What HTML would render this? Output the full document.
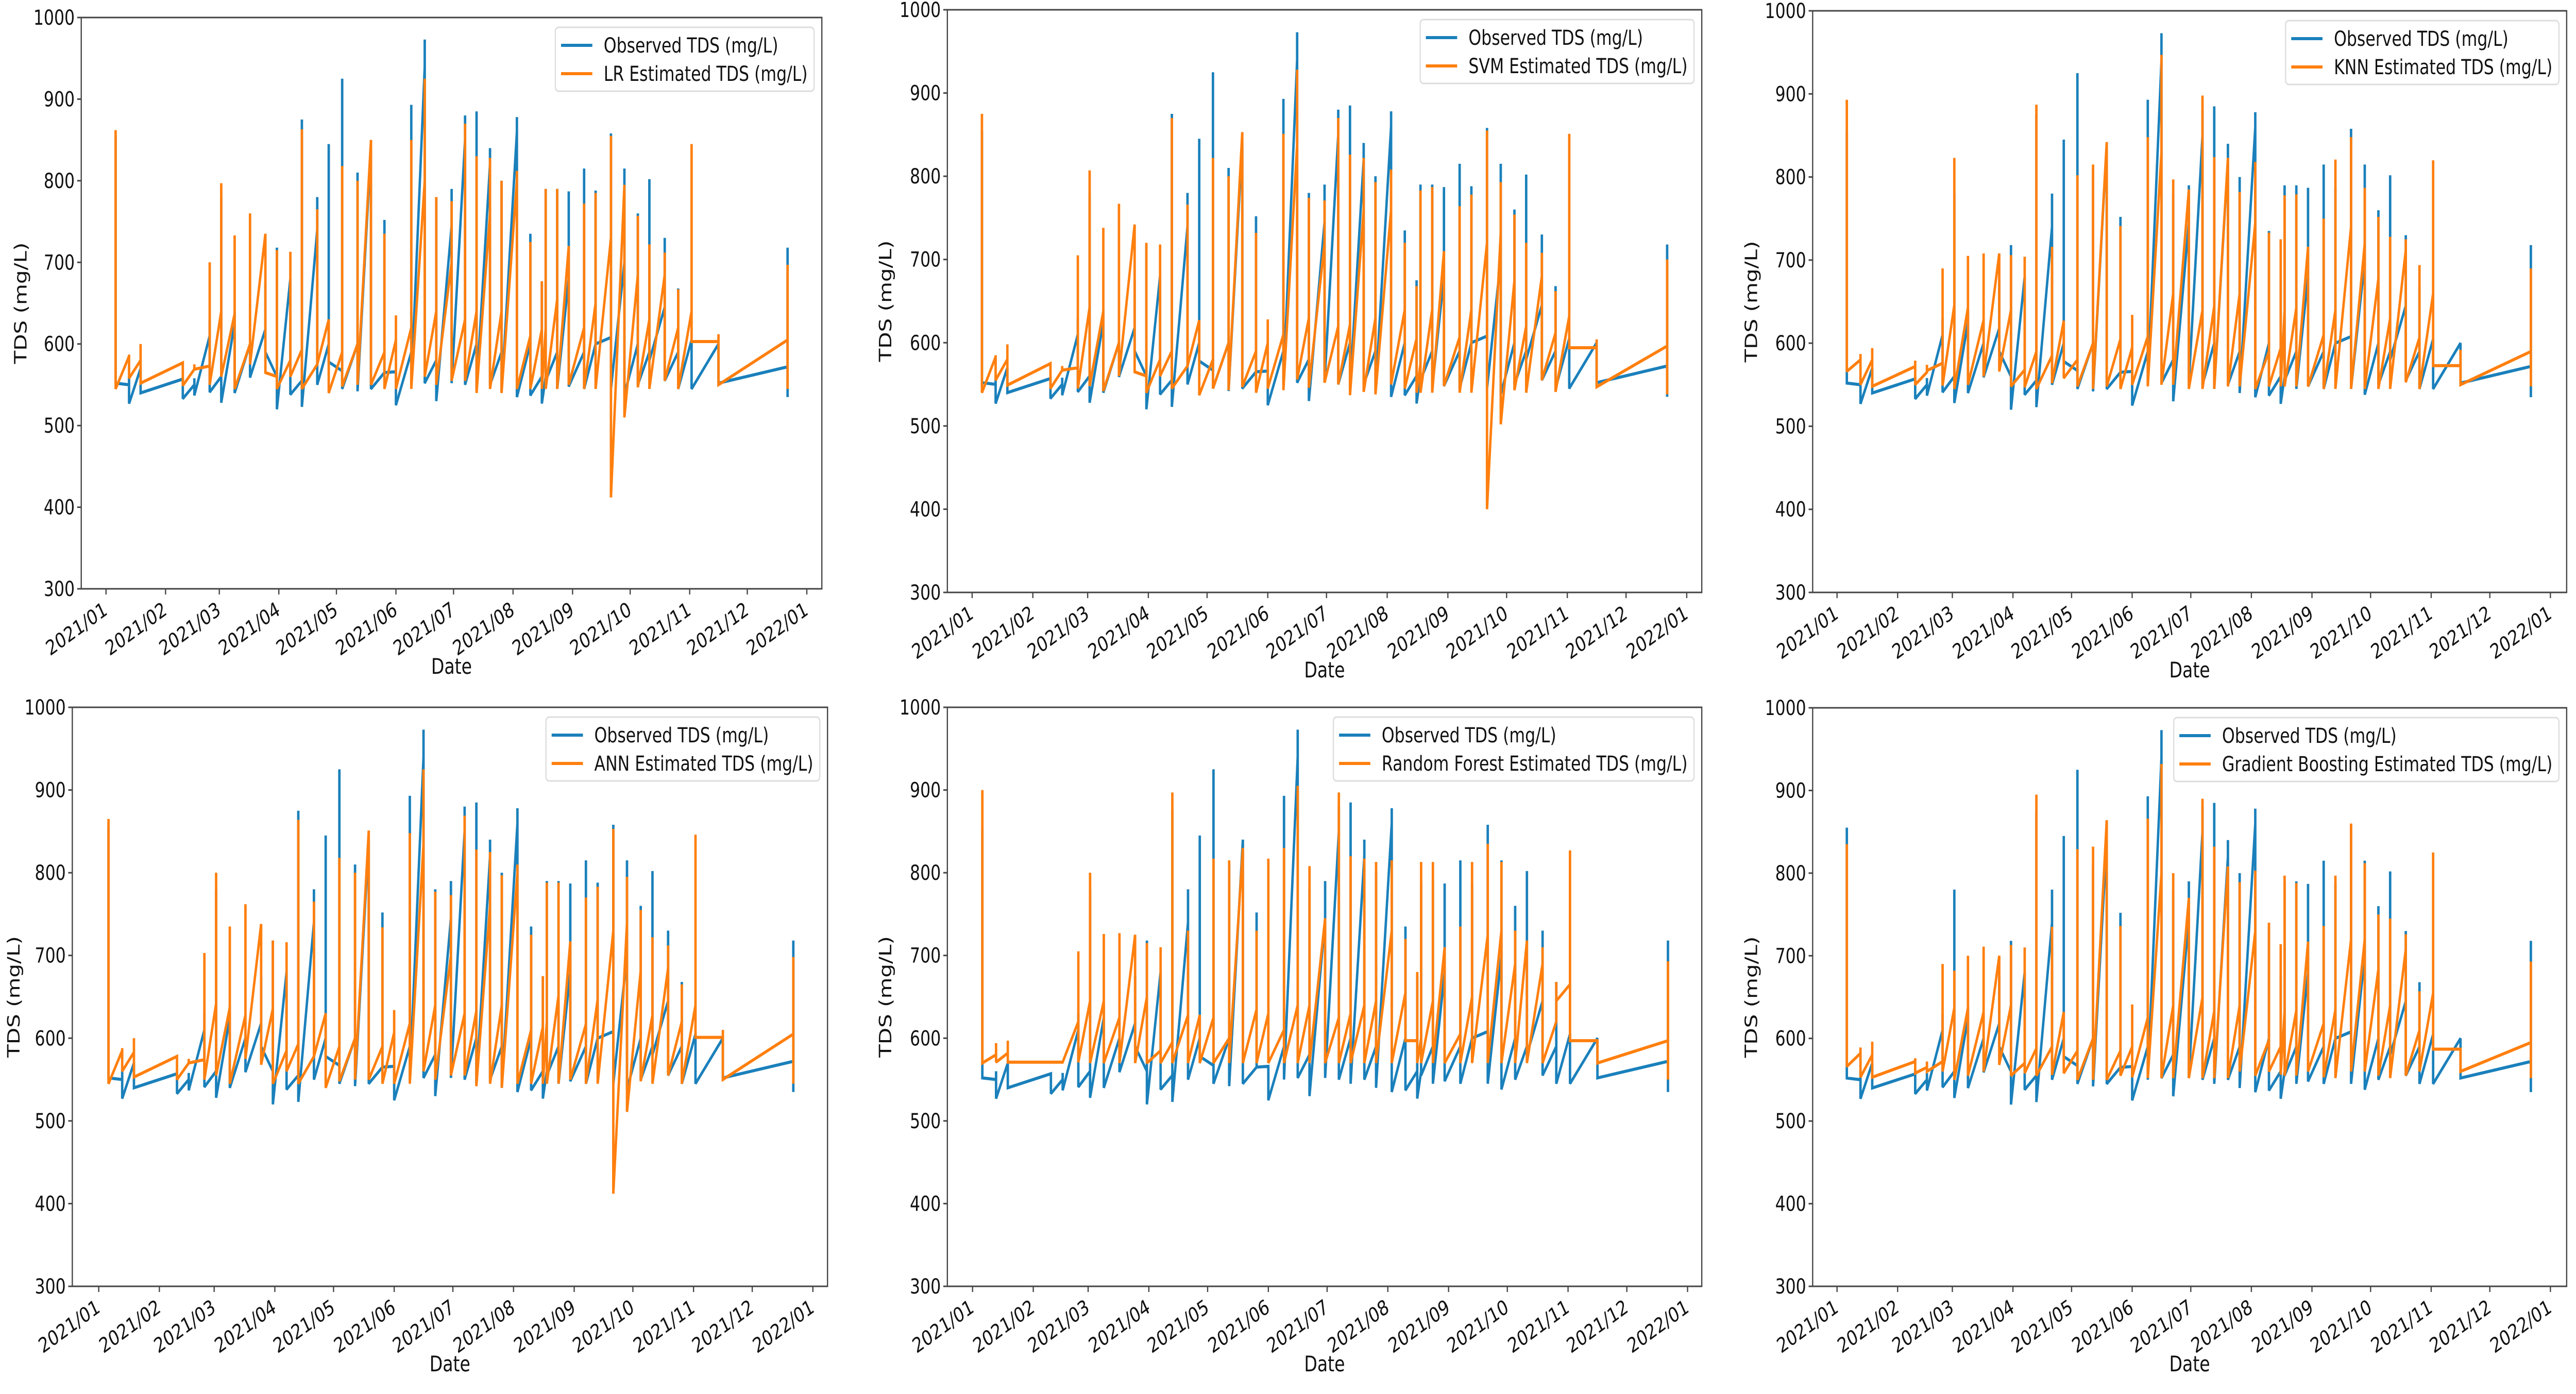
<!DOCTYPE html>
<html><head><meta charset="utf-8">
<style>
html,body{margin:0;padding:0;background:#fff;width:100%;height:100%;overflow:hidden;}
svg{display:block;width:100vw;height:100vh;font-family:"DejaVu Sans","Liberation Sans",sans-serif;}
</style></head>
<body>
<svg id="fig" viewBox="0 0 6341 2706" preserveAspectRatio="none" xmlns="http://www.w3.org/2000/svg"></svg>
<script>
// ---- data ----
const sampleDays = [5,12,18,40,46,54,60,67,75,83,89,96,102,110,116,123,131,138,145,151,159,166,172,180,187,193,200,206,214,221,227,229,235,241,249,255,263,270,277,283,291,298,305,319,355];
const yTicks = [300,400,500,600,700,800,900,1000];
const xTickLabels = ["2021/01","2021/02","2021/03","2021/04","2021/05","2021/06","2021/07","2021/08","2021/09","2021/10","2021/11","2021/12","2022/01"];
const xTickDays = [0,31,59,90,120,151,181,212,243,273,304,334,365];
const obsValues = [560,855,552, 550,560,527, 570,570,540, 557,557,533, 550,558,537, 610,630,541, 560,780,528, 625,640,540, 600,600,559, 618,675,590, 560,718,520, 680,680,538, 555,875,523, 740,780,550, 600,845,578, 567,925,545, 600,810,542, 840,840,545, 565,752,565, 566,566,525, 590,893,550, 940,973,552, 580,780,530, 745,790,552, 850,880,550, 600,885,545, 820,840,550, 590,800,540, 860,878,535, 600,735,537, 560,675,527, 560,790,555, 590,790,545, 680,787,548, 590,815,545, 600,788,600, 608,858,545, 700,815,538, 600,760,550, 590,802,580, 645,730,555, 590,668,545, 605,605,545, 600,600,552, 572,718,535];
const lrValues = [578,862,545, 585,587,558, 580,600,552, 577,577,549, 569,575,569, 573,700,550, 640,797,560, 637,733,545, 600,760,575, 735,735,565, 560,715,545, 580,713,560, 593,863,545, 575,765,575, 630,630,540, 590,818,548, 600,800,550, 850,850,550, 590,735,545, 605,635,545, 620,850,545, 800,925,560, 640,780,550, 700,775,555, 630,870,555, 640,830,540, 760,828,545, 640,800,540, 800,812,545, 610,725,545, 618,677,545, 620,790,545, 655,790,545, 720,720,550, 620,772,545, 650,785,545, 730,855,412, 795,795,510, 685,757,547, 630,722,545, 685,712,555, 620,667,545, 640,845,603, 603,612,550, 605,697,545];
const svmValues = [576,875,540, 583,585,555, 580,598,549, 575,575,545, 567,572,567, 570,705,545, 643,807,548, 638,738,542, 600,767,560, 742,742,565, 560,720,540, 580,718,560, 590,870,545, 572,766,572, 627,627,537, 580,822,545, 600,800,543, 853,853,547, 590,732,540, 600,628,545, 610,851,543, 838,928,556, 630,774,546, 720,771,552, 620,870,550, 622,826,537, 760,822,541, 630,793,538, 760,808,550, 640,720,545, 605,668,540, 575,783,540, 640,787,540, 710,710,548, 607,764,540, 640,778,540, 720,855,400, 733,793,502, 675,754,543, 620,720,540, 680,708,555, 612,662,541, 632,851,594, 594,604,547, 596,700,538];
const knnValues = [572,893,566, 580,587,550, 580,594,548, 572,579,550, 565,574,567, 576,690,549, 646,823,545, 643,705,550, 628,708,560, 708,708,566, 640,706,548, 568,704,547, 590,887,545, 585,716,552, 627,627,558, 580,802,548, 600,815,545, 842,842,548, 605,741,545, 595,634,550, 608,848,548, 830,947,550, 660,797,550, 785,785,545, 640,898,545, 645,824,545, 823,823,548, 660,782,548, 745,818,545, 590,733,548, 594,725,548, 640,778,548, 643,779,548, 716,716,548, 610,750,545, 640,821,545, 740,848,545, 720,787,545, 678,752,545, 630,728,545, 712,725,553, 607,694,545, 660,820,573, 573,592,550, 590,690,548];
const annValues = [580,865,545, 585,588,560, 583,600,553, 578,578,550, 570,575,570, 574,703,550, 642,800,555, 637,735,545, 628,762,575, 738,738,568, 636,718,545, 585,716,560, 593,864,545, 578,765,578, 630,630,540, 590,818,548, 600,800,550, 851,851,550, 590,734,545, 607,634,545, 618,848,545, 835,925,560, 640,777,550, 700,773,555, 630,869,555, 633,828,542, 760,825,545, 640,797,540, 800,810,545, 610,725,545, 614,675,545, 620,788,545, 652,788,545, 717,717,550, 617,770,545, 647,783,545, 730,853,412, 740,795,511, 682,755,548, 628,722,545, 685,712,555, 620,665,545, 640,846,601, 601,610,550, 605,698,545];
const rfValues = [571,900,570, 580,594,571, 582,597,571, 571,571,571, 571,571,571, 620,705,571, 645,800,570, 645,726,570, 625,727,570, 725,725,570, 650,715,570, 585,710,570, 595,897,570, 628,730,570, 628,628,570, 625,817,570, 600,815,570, 830,830,570, 635,730,570, 630,817,570, 610,830,570, 640,905,570, 640,808,570, 745,745,570, 625,897,570, 630,820,570, 640,817,570, 645,813,570, 730,815,570, 655,720,597, 597,680,570, 600,813,570, 645,813,570, 710,710,570, 605,735,570, 650,813,570, 725,835,570, 730,813,570, 690,730,570, 718,718,570, 690,710,570, 620,668,645, 665,827,597, 597,597,570, 597,693,550];
const gbValues = [573,835,566, 582,589,553, 580,596,553, 572,576,558, 565,572,560, 572,690,560, 637,682,550, 637,700,555, 632,711,560, 700,700,568, 640,713,555, 570,710,558, 588,895,555, 590,735,556, 632,632,558, 585,829,550, 600,832,550, 864,864,550, 585,736,555, 590,641,553, 625,866,552, 800,932,552, 640,800,552, 770,770,552, 650,890,552, 633,832,552, 808,808,552, 640,789,560, 730,803,555, 598,740,560, 590,714,556, 633,797,555, 634,788,555, 717,717,560, 618,736,553, 635,797,552, 720,860,560, 720,812,560, 684,750,555, 640,745,552, 708,726,555, 610,657,560, 655,825,587, 587,587,560, 595,693,552];

const panels = [
  {id:"lr", name:"LR", vals:lrValues, L:200, R:2023, T:34, B:1143, t0:261, t1:1986, ylab:51},
  {id:"svm", name:"SVM", vals:svmValues, L:2332, R:4189, T:19, B:1150, t0:2393, t1:4152, ylab:2180},
  {id:"knn", name:"KNN", vals:knnValues, L:4462, R:6318, T:21, B:1150, t0:4522, t1:6278, ylab:4311},
  {id:"ann", name:"ANN", vals:annValues, L:178, R:2037, T:1373, B:2497, t0:243, t1:2001, ylab:34},
  {id:"rf", name:"Random Forest", vals:rfValues, L:2332, R:4189, T:1373, B:2497, t0:2394, t1:4154, ylab:2180},
  {id:"gb", name:"Gradient Boosting", vals:gbValues, L:4462, R:6318, T:1374, B:2497, t0:4522, t1:6278, ylab:4311}
];

const NS = "http://www.w3.org/2000/svg";
const fig = document.getElementById("fig");
function mk(tag, attrs, parent){ const e=document.createElementNS(NS,tag); for(const k in attrs) e.setAttribute(k,attrs[k]); (parent||fig).appendChild(e); return e; }
const BLUE="#1a80bb", ORANGE="#ff7f0e", SPINE="#444";

panels.forEach(p=>{
  const g = mk("g",{});
  
  
  const xs = d => p.t0 + (p.t1-p.t0)*d/365;
  const ys = v => p.B - (v-300)*(p.B-p.T)/700;
  function line(vals, color, nm){
    let pts=[];
    vals.forEach((v,i)=>{ const d=sampleDays[Math.floor(i/3)]; pts.push(xs(d).toFixed(1)+","+ys(v).toFixed(1)); });
    const pl = mk("polyline",{points:pts.join(" "),fill:"none",stroke:color,"stroke-width":6,"stroke-linejoin":"miter","stroke-miterlimit":2},g);
    
    
  }
  line(obsValues, BLUE, 'observed-line-'+p.id);
  line(p.vals, ORANGE, 'estimated-line-'+p.id);
  const fr = mk("rect",{x:p.L,y:p.T,width:p.R-p.L,height:p.B-p.T,fill:"none",stroke:SPINE,"stroke-width":3},g);
  
  
  yTicks.forEach(v=>{
    const y=ys(v);
    mk("line",{x1:p.L-10,x2:p.L,y1:y,y2:y,stroke:SPINE,"stroke-width":3},g);
    const t=mk("text",{x:p.L-16,y:y+14,"text-anchor":"end","font-size":40,fill:"#111"},g);
    t.textContent=v;
    
    
  });
  xTickDays.forEach((d,i)=>{
    const x=xs(d);
    mk("line",{x1:x,x2:x,y1:p.B,y2:p.B+11,stroke:SPINE,"stroke-width":3},g);
    const t=mk("text",{x:0,y:0,"text-anchor":"end","font-size":40,fill:"#111",transform:`translate(${x+6},${p.B+48}) rotate(-30)`},g);
    t.textContent=xTickLabels[i];
    
    
  });
  const yl=mk("text",{x:0,y:0,"text-anchor":"middle","font-size":42,fill:"#111",transform:`translate(${p.ylab+14},${(p.T+p.B)/2}) rotate(-90)`},g);
  yl.textContent="TDS (mg/L)";
  
  
  const xl=mk("text",{x:(p.L+p.R)/2,y:p.B+165,"text-anchor":"middle","font-size":42,fill:"#111"},g);
  xl.textContent="Date";
  
  
  const lg = mk("g",{},g);
  
  
  const box = mk("rect",{rx:8,ry:8,fill:"#fff",stroke:"#ddd","stroke-width":3,"fill-opacity":0.85},lg);
  const t1=mk("text",{"font-size":40,fill:"#111"},lg); t1.textContent="Observed TDS (mg/L)";
  
  
  const t2=mk("text",{"font-size":40,fill:"#111"},lg); t2.textContent=p.name+" Estimated TDS (mg/L)";
  
  
  const tw = Math.max(t1.getComputedTextLength(), t2.getComputedTextLength());
  const bw = 14+77+28+tw+16;
  const bx = p.R-19-bw, by=p.T+19;
  box.setAttribute("x",bx); box.setAttribute("y",by); box.setAttribute("width",bw); box.setAttribute("height",124);
  const tx = bx+14+77+28;
  t1.setAttribute("x",tx); t1.setAttribute("y",by+49);
  t2.setAttribute("x",tx); t2.setAttribute("y",by+104);
  mk("line",{x1:bx+14,x2:bx+91,y1:by+35,y2:by+35,stroke:BLUE,"stroke-width":6},lg);
  mk("line",{x1:bx+14,x2:bx+91,y1:by+90,y2:by+90,stroke:ORANGE,"stroke-width":6},lg);
});
</script>
</body></html>
